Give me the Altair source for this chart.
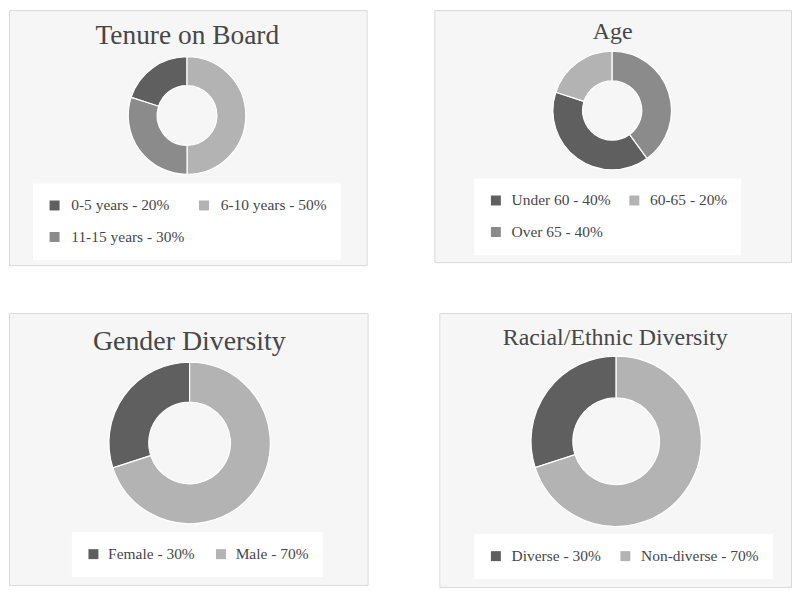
import altair as alt
import pandas as pd

# ---- data ----
tenure_cats = ["0-5 years", "6-10 years", "11-15 years"]
tenure_vals = [20, 50, 30]
tenure_clockwise = ["6-10 years", "11-15 years", "0-5 years"]

age_cats = ["Under 60", "60-65", "Over 65"]
age_vals = [40, 20, 40]
age_clockwise = ["Over 65", "Under 60", "60-65"]

gender_cats = ["Female", "Male"]
gender_vals = [30, 70]
gender_clockwise = ["Male", "Female"]

race_cats = ["Diverse", "Non-diverse"]
race_vals = [30, 70]
race_clockwise = ["Non-diverse", "Diverse"]

titles = ["Tenure on Board", "Age", "Gender Diversity", "Racial/Ethnic Diversity"]

# ---- style ----
DARK = "#5f5f5f"
MID = "#8b8b8b"
LIGHT = "#b3b3b3"
TXT = "#474747"
FONT = "Liberation Serif"
PANEL_BG = alt.ViewBackground(fill="#f6f6f6", stroke="#d9d9d9", strokeWidth=1)


def make_df(cats, vals, clockwise):
    return pd.DataFrame({
        "label": [f"{c} - {v}%" for c, v in zip(cats, vals)],
        "value": vals,
        "ord": [clockwise.index(c) for c in cats],
    })


def panel(cats, vals, clockwise, colors, title, w, h, tx, ty, tsize,
          cx, cy, r_out, r_in, lx, ly, lofs, cpad):
    df = make_df(cats, vals, clockwise)
    labels = list(df["label"])
    title_layer = alt.Chart(pd.DataFrame({"t": [title]})).mark_text(
        font=FONT, fontSize=tsize, color=TXT, align="center", baseline="alphabetic"
    ).encode(text="t:N", x=alt.value(tx), y=alt.value(ty))
    arc = alt.Chart(df).mark_arc(
        innerRadius=r_in, outerRadius=r_out, stroke="white", strokeWidth=1.2
    ).encode(
        theta=alt.Theta("value:Q", stack=True),
        order=alt.Order("ord:Q", sort="ascending"),
        color=alt.Color(
            "label:N",
            scale=alt.Scale(domain=labels, range=colors),
            legend=alt.Legend(
                title=None, orient="none", legendX=lx, legendY=ly, columns=2,
                direction="horizontal",
                symbolType="square", symbolSize=100, symbolStrokeWidth=0,
                labelFont=FONT, labelFontSize=15.5, labelColor=TXT,
                labelOffset=lofs, columnPadding=cpad, rowPadding=15,
                padding=14, fillColor="white", labelLimit=400,
            ),
        ),
        x=alt.value(cx),
        y=alt.value(cy),
    )
    return alt.layer(title_layer, arc).properties(width=w, height=h, view=PANEL_BG)


p1 = panel(tenure_cats, tenure_vals, tenure_clockwise, [DARK, LIGHT, MID], titles[0],
           359, 256, 179, 34, 27.5, 178.7, 105.8, 59, 30, 24, 174, 9, 12)
p2 = panel(age_cats, age_vals, age_clockwise, [DARK, LIGHT, MID], titles[1],
           358, 253, 179, 29, 24, 178.5, 100.8, 59.5, 29.7, 40, 169, 8, 16)
p3 = panel(gender_cats, gender_vals, gender_clockwise, [DARK, LIGHT], titles[2],
           360, 273, 181, 37, 28, 181.3, 130.5, 81, 41, 63, 220, 7, 18)
p4 = panel(race_cats, race_vals, race_clockwise, [DARK, LIGHT], titles[3],
           353, 275, 176.5, 32, 24, 177.5, 128.8, 85.5, 43.5, 35, 222, 8, 16)

row1 = alt.hconcat(p1, p2, spacing=66).resolve_scale(color="independent")
row2 = alt.hconcat(p3, p4, spacing=70).resolve_scale(color="independent")

chart = alt.vconcat(row1, row2, spacing=46).resolve_scale(
    color="independent"
).properties(padding=0, background="white")

chart.save("out.html", embed_options={"renderer": "svg", "actions": False})
